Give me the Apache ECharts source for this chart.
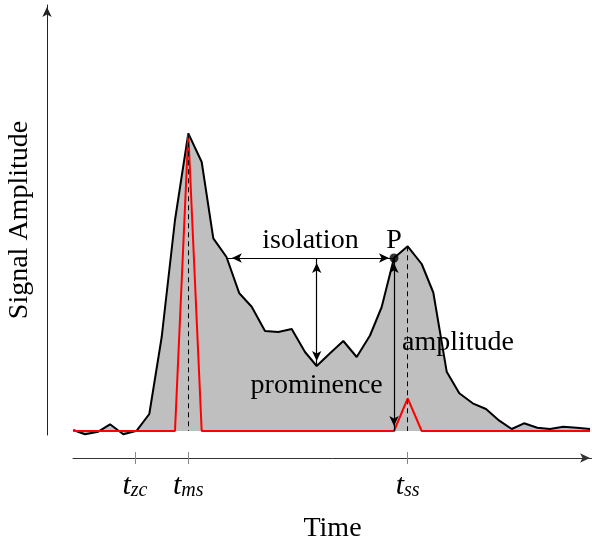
<!DOCTYPE html>
<html>
<head>
<meta charset="utf-8">
<script src="https://cdn.jsdelivr.net/npm/echarts@6/dist/echarts.min.js"></script>
<style>
  html, body { margin: 0; padding: 0; background: #fff; }
  #chart { width: 592px; height: 543px; }
</style>
</head>
<body>
<div id="chart"></div>
<script>
// sampled signal (time in arbitrary units, amplitude in arbitrary units)
const time = [0.3, 12, 25.3, 37, 50.3, 63.7, 76.3, 88.7, 102, 115.3,
  128.7, 140.3, 153.5, 166.3, 178.7, 192, 205.3, 218.7, 232, 243.7,
  257, 270.3, 283.7, 297, 308.7, 321, 334.7, 348.7, 360.3, 373.7,
  386.3, 399.7, 413, 426.3, 438.7, 451, 464.3, 477, 490.3, 503.7, 517];
const signal = [1, -3.3, -0.7, 6.7, -3.3, 0.3, 17, 94, 211, 297.7,
  269, 192.7, 174, 137.7, 124.3, 100, 99, 102, 79, 65,
  77.7, 90, 74, 95.5, 124, 173, 184.7, 167, 138.5, 59.3,
  37.7, 27.7, 22, 10.3, 2, 7.7, 3.3, 2, 4.3, 3.3, 2];
const spikes = [0, 0, 0, 0, 0, 0, 0, 0, 0, 297.7,
  0, 0, 0, 0, 0, 0, 0, 0, 0, 0,
  0, 0, 0, 0, 0, 0, 32.7, 0, 0, 0,
  0, 0, 0, 0, 0, 0, 0, 0, 0, 0, 0];

const tickTimes = [62, 115.3, 334.7];
const tickSubs = ['zc', 'ms', 'ss'];

const peakIndex = 25;    // point P
const valleyIndex = 19;  // lowest point between the peaks
const msIndex = 9;
const ssIndex = 26;

const serif = 'Liberation Serif';
const black = '#000';

// left crossing of the signal at P's level (start of the isolation arrow)
function leftCrossing(level, from) {
  for (let i = from - 1; i >= 0; i--) {
    if (signal[i] >= level) {
      const f = (signal[i] - level) / (signal[i] - signal[i + 1]);
      return time[i] + f * (time[i + 1] - time[i]);
    }
  }
  return time[0];
}

const pT = time[peakIndex], pA = signal[peakIndex];
const isoStart = leftCrossing(pA, peakIndex);
const vT = time[valleyIndex], vA = signal[valleyIndex];

const arrowLine = {
  silent: true,
  animation: false,
  symbol: ['arrow', 'arrow'],
  symbolSize: [7, 10],
  symbolOffset: [[0, 5], [0, 5]],
  label: { show: false },
  lineStyle: { color: black, width: 1.2, type: 'solid' },
  emphasis: { disabled: true }
};

const chart = echarts.init(document.getElementById('chart'));
chart.setOption({
  animation: false,
  grid: { left: 73, right: 0, top: 5, bottom: 108, outerBoundsMode: 'none', containLabel: false },
  xAxis: [
    {
      type: 'value',
      position: 'bottom',
      min: 0, max: 519,
      offset: 23,
      splitLine: { show: false },
      axisLine: {
        show: true,
        onZero: false,
        symbol: ['none', 'arrow'],
        symbolSize: [7, 10],
        symbolOffset: [0, -2],
        lineStyle: { color: '#333', width: 1 }
      },
      axisTick: {
        show: true, customValues: tickTimes, length: 6,
        lineStyle: { color: '#888', width: 1 }
      },
      axisLabel: {
        show: true,
        customValues: tickTimes,
        margin: 13,
        formatter: function (v) {
          let k = 0;
          tickTimes.forEach((t, i) => { if (Math.abs(t - v) < Math.abs(tickTimes[k] - v)) k = i; });
          return '{t|t}{s|' + tickSubs[k] + '}';
        },
        rich: {
          t: { fontFamily: serif, fontStyle: 'italic', fontSize: 30, lineHeight: 30, color: black },
          s: { fontFamily: serif, fontStyle: 'italic', fontSize: 20, lineHeight: 14, verticalAlign: 'bottom', color: black }
        }
      },
      name: 'Time',
      nameLocation: 'middle',
      nameGap: 57,
      nameTextStyle: { fontFamily: serif, fontSize: 28, color: black }
    },
    {
      type: 'value',
      position: 'bottom',
      min: 0, max: 519,
      offset: 23,
      splitLine: { show: false },
      axisLine: { show: false, onZero: false },
      axisLabel: { show: false },
      axisTick: {
        show: true, inside: true, customValues: tickTimes, length: 6,
        lineStyle: { color: '#888', width: 1 }
      }
    }
  ],
  yAxis: {
    type: 'value',
    min: -4, max: 426,
    offset: 26,
    splitLine: { show: false },
    axisTick: { show: false },
    axisLabel: { show: false },
    axisLine: {
      show: true,
      onZero: false,
      symbol: ['none', 'arrow'],
      symbolSize: [7, 10],
      symbolOffset: [0, -2],
      lineStyle: { color: '#222', width: 1 }
    },
    name: 'Signal Amplitude',
    nameLocation: 'middle',
    nameGap: 13,
    nameTextStyle: { fontFamily: serif, fontSize: 28, color: black }
  },
  series: [
    {
      type: 'line',
      data: time.map((t, i) => [t, signal[i]]),
      showSymbol: false,
      lineStyle: { color: black, width: 2 },
      areaStyle: { color: '#bfbfbf', opacity: 1 },
      z: 2,
      markLine: {
        silent: true,
        animation: false,
        symbol: ['none', 'none'],
        label: { show: false },
        lineStyle: { color: black, width: 1, type: [5, 4] },
        data: [
          [{ coord: [time[msIndex], signal[msIndex]] }, { coord: [time[msIndex], 0] }],
          [{ coord: [time[ssIndex], signal[ssIndex]] }, { coord: [time[ssIndex], 0] }]
        ]
      }
    },
    {
      type: 'line',
      data: time.map((t, i) => [t, spikes[i]]),
      showSymbol: false,
      lineStyle: { color: '#ff0000', width: 2 },
      z: 3
    },
    {
      type: 'scatter',
      data: [[pT, pA]],
      symbolSize: 9,
      itemStyle: { color: black },
      z: 10,
      silent: true,
      markLine: Object.assign({}, arrowLine, {
        data: [
          [{ coord: [isoStart, pA] }, { coord: [pT, pA] }],
          [{ coord: [vT, pA] }, { coord: [vT, vA] }],
          [{ coord: [pT, pA] }, { coord: [pT, 0] }]
        ]
      }),
      markPoint: {
        silent: true,
        animation: false,
        symbol: 'circle',
        symbolSize: 0,
        itemStyle: { color: 'transparent' },
        label: { show: true, fontFamily: serif, fontSize: 28, color: black },
        data: [
          { coord: [(isoStart + pT) / 2, pA], value: 'isolation', label: { position: 'top', distance: 3, formatter: 'isolation' } },
          { coord: [pT, pA], value: 'P', label: { position: 'top', distance: 3, formatter: 'P' } },
          { coord: [vT, vA], value: 'prominence', label: { position: 'bottom', distance: 6, formatter: 'prominence' } },
          { coord: [pT, pA / 2], value: 'amplitude', label: { position: 'right', distance: 8, offset: [0, -2], formatter: 'amplitude' } }
        ]
      }
    }
  ]
});
</script>
</body>
</html>
